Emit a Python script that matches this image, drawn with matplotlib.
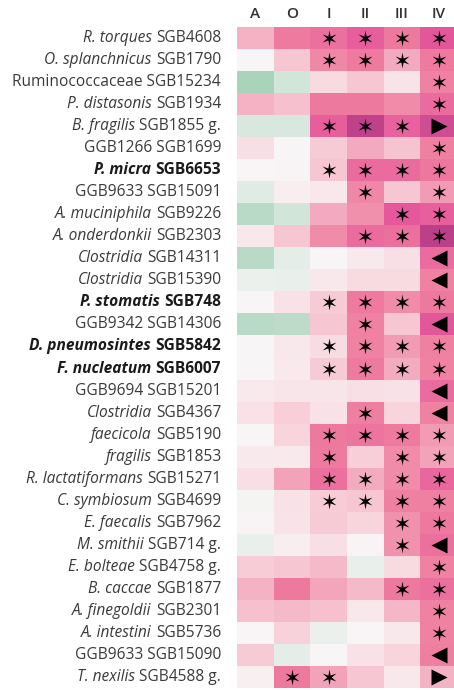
import matplotlib
matplotlib.use("Agg")
import matplotlib.pyplot as plt
import numpy as np
from matplotlib.colors import LinearSegmentedColormap
from matplotlib.path import Path

plt.rcParams['font.family'] = ['Open Sans', 'DejaVu Sans']

columns = ["A", "O", "I", "II", "III", "IV"]

taxa = ["R. torques", "O. splanchnicus", "Ruminococcaceae", "P. distasonis", "B. fragilis",
        "GGB1266", "P. micra", "GGB9633", "A. muciniphila", "A. onderdonkii",
        "Clostridia", "Clostridia", "P. stomatis", "GGB9342", "D. pneumosintes",
        "F. nucleatum", "GGB9694", "Clostridia", "faecicola", "fragilis",
        "R. lactatiformans", "C. symbiosum", "E. faecalis", "M. smithii", "E. bolteae",
        "B. caccae", "A. finegoldii", "A. intestini", "GGB9633", "T. nexilis"]
sgbs = ["SGB4608", "SGB1790", "SGB15234", "SGB1934", "SGB1855 g.",
        "SGB1699", "SGB6653", "SGB15091", "SGB9226", "SGB2303",
        "SGB14311", "SGB15390", "SGB748", "SGB14306", "SGB5842",
        "SGB6007", "SGB15201", "SGB4367", "SGB5190", "SGB1853",
        "SGB15271", "SGB4699", "SGB7962", "SGB714 g.", "SGB4758 g.",
        "SGB1877", "SGB2301", "SGB5736", "SGB15090", "SGB4588 g."]
italic_taxon = [True, True, False, True, True, False, True, False, True, True,
                True, True, True, False, True, True, False, True, True, True,
                True, True, True, True, True, True, True, True, False, True]
bold_row = [False, False, False, False, False, False, True, False, False, False,
            False, False, True, False, True, True, False, False, False, False,
            False, False, False, False, False, False, False, False, False, False]

vals_A = [0.4, 0.0, -0.5, 0.4, -0.2, 0.15, 0.0, -0.15, -0.4, 0.1, -0.4, -0.08, 0.0, -0.4, 0.0,
          0.0, 0.08, 0.14, 0.0, 0.08, 0.15, -0.03, 0.01, -0.1, 0.27, 0.4, 0.33, 0.0, 0.28, 0.04]
vals_O = [0.65, 0.3, -0.25, 0.33, -0.2, 0.0, 0.02, 0.06, -0.25, 0.3, -0.12, -0.1, 0.13, -0.38, 0.1,
          0.08, 0.11, 0.25, 0.22, 0.08, 0.48, 0.13, 0.12, 0.05, 0.3, 0.66, 0.36, 0.24, -0.12, 0.66]
vals_I = [0.7, 0.6, 0.18, 0.66, 0.78, 0.28, 0.3, 0.1, 0.45, 0.58, 0.0, 0.1, 0.28, 0.3, 0.17,
          0.28, 0.11, 0.14, 0.66, 0.65, 0.7, 0.27, 0.28, 0.15, 0.36, 0.47, 0.33, -0.08, 0.0, 0.48]
vals_II = [0.78, 0.65, 0.3, 0.66, 0.95, 0.45, 0.72, 0.6, 0.57, 0.72, 0.08, 0.18, 0.65, 0.62, 0.62,
           0.65, 0.15, 0.64, 0.68, 0.25, 0.44, 0.3, 0.22, 0.01, -0.1, 0.36, 0.1, 0.0, 0.14, 0.3]
vals_III = [0.66, 0.45, 0.12, 0.58, 0.76, 0.32, 0.72, 0.3, 0.8, 0.7, 0.15, 0.18, 0.58, 0.3, 0.52,
            0.44, 0.14, 0.22, 0.65, 0.58, 0.58, 0.63, 0.56, 0.56, 0.18, 0.66, 0.38, 0.09, 0.22, 0.1]
vals_IV = [0.82, 0.65, 0.62, 0.72, 0.88, 0.63, 0.67, 0.52, 0.77, 0.96, 0.72, 0.62, 0.66, 0.82, 0.63,
           0.62, 0.72, 0.62, 0.52, 0.48, 0.74, 0.63, 0.66, 0.7, 0.62, 0.7, 0.62, 0.62, 0.64, 0.4]

# significance markers: '*' star, '<' left triangle, '>' right triangle, '.' none
sig_A = "." * 30
sig_O = "." * 29 + "*"
sig_I = "**..*.*..." + "..*.**..**" + "**.......*"
sig_II = "**..*.**.*" + "..****.**." + "**........"
sig_III = "**..*.*.**" + "..*.**..**" + "****.*...."
sig_IV = "****>*****" + "<<*<**<<**" + "***<****<>"

values = np.column_stack([vals_A, vals_O, vals_I, vals_II, vals_III, vals_IV])
sigs = [sig_A, sig_O, sig_I, sig_II, sig_III, sig_IV]

cmap = LinearSegmentedColormap.from_list("gp", [
    (0.0, "#3d8f6c"), (0.25, "#a9d3bb"), (0.5, "#f8f6f6"), (0.625, "#f8d0da"),
    (0.75, "#f2a0b8"), (0.825, "#ee7c9f"), (0.9, "#e65a9c"), (1.0, "#b03a85")])

W, H = 454, 690
fig = plt.figure(figsize=(W / 100, H / 100), dpi=100)
left, right, top, bottom = 237, 457, 27, 688
ax = fig.add_axes([left / W, 1 - bottom / H, (right - left) / W, (bottom - top) / H])

nrows, ncols = values.shape
ax.pcolormesh(np.arange(ncols + 1), np.arange(nrows + 1), values, cmap=cmap,
              vmin=-1, vmax=1, shading="flat")
ax.set_xlim(0, ncols)
ax.set_ylim(nrows, 0)
for s in ax.spines.values():
    s.set_visible(False)
ax.xaxis.tick_top()
ax.set_xticks(np.arange(ncols) + 0.5)
ax.set_xticklabels(columns, fontsize=11, color="#333333", fontweight="semibold")
ax.tick_params(axis="x", length=0, pad=4)
ax.set_yticks([])

verts = Path.unit_regular_star(6, innerCircle=0.28)
star = Path(verts.vertices, verts.codes)
for j, s in enumerate(sigs):
    for i, ch in enumerate(s):
        if ch == "*":
            ax.plot(j + 0.5, i + 0.5, marker=star, ms=11.5, color="black", mec="none")
        elif ch in "<>":
            ax.plot(j + 0.5, i + 0.5, marker=ch, ms=11.5, color="black", mec="none")

fs = 11.2
for i in range(nrows):
    weight = "bold" if bold_row[i] else "normal"
    col = "#1a1a1a" if bold_row[i] else "#3a3a3a"
    if italic_taxon[i]:
        t = ax.annotate(sgbs[i], xy=(0, i + 0.5), xycoords=("axes fraction", "data"),
                        xytext=(-11.5, 0), textcoords="offset points", ha="right", va="center",
                        fontsize=fs, fontweight=weight, color=col)
        ax.annotate(taxa[i], xy=(0, 0.5), xycoords=t, xytext=(-3.0, 0),
                    textcoords="offset points", ha="right", va="center",
                    fontsize=fs, fontweight=weight, fontstyle="italic", color=col)
    else:
        ax.annotate(taxa[i] + " " + sgbs[i], xy=(0, i + 0.5), xycoords=("axes fraction", "data"),
                    xytext=(-11.5, 0), textcoords="offset points", ha="right", va="center",
                    fontsize=fs, fontweight=weight, color=col)

fig.savefig("out.png", dpi=100)
